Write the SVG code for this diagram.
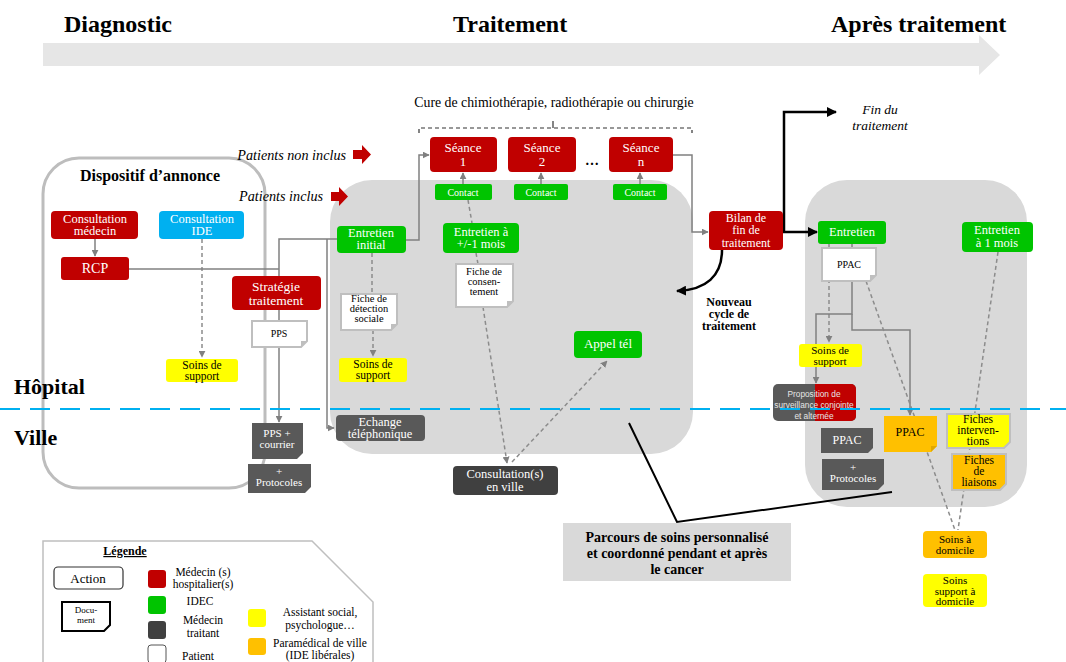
<svg xmlns="http://www.w3.org/2000/svg" width="1066" height="662" viewBox="0 0 1066 662">
<defs>
<marker id="ag" viewBox="0 0 10 10" refX="9" refY="5" markerWidth="7" markerHeight="7" orient="auto" markerUnits="userSpaceOnUse"><path d="M0,0 L10,5 L0,10 z" fill="#808080"/></marker>
<marker id="ab" viewBox="0 0 10 10" refX="9" refY="5" markerWidth="10" markerHeight="10" orient="auto" markerUnits="userSpaceOnUse"><path d="M0,0 L10,5 L0,10 z" fill="#000"/></marker>
<style>
text{font-family:"Liberation Serif","DejaVu Serif",serif;text-anchor:middle}
.w{fill:#fff}
.k{fill:#000}
.h{font-weight:bold;font-size:24px;text-anchor:start}
.red{fill:#c00000}
.grn{fill:#00c400}
.blu{fill:#00b0f0}
.yel{fill:#ffff00}
.org{fill:#ffc000}
.dk{fill:#595959}
.dk2{fill:#404040}
.doc{fill:#fff;stroke:#bfbfbf;stroke-width:2}
.fold{fill:#bfbfbf}
.ln{fill:none;stroke:#808080;stroke-width:1.5}
.dl{fill:none;stroke:#8c8c8c;stroke-width:1.5;stroke-dasharray:4,3}
.bl{fill:none;stroke:#000;stroke-width:2.5}
.region{fill:#d9d9d9}
.sans{font-family:"Liberation Sans",sans-serif}
</style>
</defs>
<rect width="1066" height="662" fill="#fff"/>

<!-- header -->
<g id="timeline">
<polygon points="43,43 979,43 979,35 1000,55 979,75 979,66 43,66" fill="#e6e6e6"/>
<text class="h k" x="64" y="32">Diagnostic</text>
<text class="h k" x="453" y="32">Traitement</text>
<text class="h k" x="831" y="32">Après traitement</text>
</g>

<!-- regions -->
<g id="dispositif">
<rect x="43" y="158" width="222" height="330" rx="36" fill="none" stroke="#bdbdbd" stroke-width="3"/>
<text x="150" y="181" style="font-weight:bold;font-size:16px" class="k">Dispositif d’annonce</text>
</g>
<rect id="region-traitement" class="region" x="330" y="180" width="363" height="274" rx="42"/>
<rect id="region-apres" class="region" x="805" y="180" width="222" height="327" rx="42"/>

<g id="zones">
<text x="14" y="394" style="font-weight:bold;font-size:22px;text-anchor:start" class="k">Hôpital</text>
<text x="14" y="445" style="font-weight:bold;font-size:22px;text-anchor:start" class="k">Ville</text>
</g>

<!-- connectors -->
<g id="connectors">
<line class="ln" x1="95" y1="239" x2="95" y2="256" marker-end="url(#ag)"/>
<line class="dl" x1="202" y1="239" x2="202" y2="357" marker-end="url(#ag)"/>
<polyline class="ln" points="129,269 279,269"/>
<polyline class="ln" points="279,276 279,239 337,239"/>
<polyline class="ln" points="327,239 327,428 334,428" marker-end="url(#ag)"/>
<line class="ln" x1="279" y1="310" x2="279" y2="321"/>
<line class="ln" x1="279" y1="347" x2="279" y2="422" marker-end="url(#ag)"/>
<polyline class="ln" points="406,240 419,240 419,155 429,155" marker-end="url(#ag)"/>
<line class="ln" x1="463" y1="184" x2="463" y2="173" marker-end="url(#ag)"/>
<line class="ln" x1="541" y1="184" x2="541" y2="173" marker-end="url(#ag)"/>
<line class="ln" x1="640" y1="184" x2="640" y2="173" marker-end="url(#ag)"/>
<polyline class="ln" points="673,155 692,155 692,232 708,232" marker-end="url(#ag)"/>
<line class="bl" x1="783" y1="232" x2="817" y2="232" marker-end="url(#ab)"/>
<polyline class="bl" points="784,232 784,112 836,112" marker-end="url(#ab)"/>
<path class="bl" d="M722,250 C722,276 706,290 677,291" marker-end="url(#ab)"/>
<line class="dl" x1="372" y1="253" x2="372" y2="294"/>
<line class="dl" x1="373" y1="330" x2="373" y2="356" marker-end="url(#ag)"/>
<line class="dl" x1="468" y1="200" x2="472" y2="223"/>
<line class="dl" x1="476" y1="253" x2="478" y2="264"/>
<line class="dl" x1="483" y1="307" x2="507" y2="463" marker-end="url(#ag)"/>
<line class="dl" x1="512" y1="462" x2="607" y2="361" marker-end="url(#ag)"/>
<line class="dl" x1="829" y1="244" x2="829" y2="342" marker-end="url(#ag)"/>
<line class="ln" x1="852" y1="244" x2="852" y2="248"/>
<polyline class="ln" points="852,281 852,314 816,314 816,383" marker-end="url(#ag)"/>
<polyline class="ln" points="852,314 852,330 910,330 910,415" marker-end="url(#ag)"/>
<line class="dl" x1="866" y1="281" x2="955" y2="530"/>
<line class="dl" x1="998" y1="252" x2="958" y2="530"/>
<polyline fill="none" stroke="#000" stroke-width="2" points="629,423 677,522 892,492"/>
<g id="bracket" fill="none" stroke="#333" stroke-width="1.2" stroke-dasharray="4,3">
<polyline points="419,133 419,128 692,128 692,133"/>
<line x1="553" y1="128" x2="553" y2="121" stroke-dasharray="none"/>
</g>
</g>

<!-- labels / arrows -->
<g id="patients-non-inclus">
<text x="346" y="160" style="font-style:italic;font-size:14.2px;text-anchor:end" class="k">Patients non inclus</text>
<polygon points="353,150 362,150 362,145 371,154.5 362,164 362,159 353,159" fill="#c00000"/>
</g>
<g id="patients-inclus">
<text x="323" y="201" style="font-style:italic;font-size:14.2px;text-anchor:end" class="k">Patients inclus</text>
<polygon points="331,192 339,192 339,187 348,196.5 339,206 339,201 331,201" fill="#c00000"/>
</g>
<text id="cure" x="554" y="107" style="font-size:13.8px" class="k">Cure de chimiothérapie, radiothérapie ou chirurgie</text>
<g id="fin-traitement">
<text x="880" y="114" style="font-style:italic;font-size:13.5px" class="k">Fin du</text>
<text x="880" y="130" style="font-style:italic;font-size:13.5px" class="k">traitement</text>
</g>
<g id="nouveau-cycle" style="font-weight:bold;font-size:12px">
<text x="729" y="306" class="k">Nouveau</text>
<text x="729" y="318" class="k">cycle de</text>
<text x="729" y="330" class="k">traitement</text>
</g>

<!-- diagnostic nodes -->
<g id="consultation-medecin"><rect class="red" x="51" y="211" width="87" height="28" rx="4"/>
<text class="w" x="95" y="223" font-size="12.5">Consultation</text><text class="w" x="95" y="235" font-size="12.5">médecin</text></g>
<g id="consultation-ide"><rect class="blu" x="159" y="211" width="85" height="28" rx="4"/>
<text class="w" x="202" y="223" font-size="12.5">Consultation</text><text class="w" x="202" y="235" font-size="12.5">IDE</text></g>
<g id="rcp"><rect class="red" x="61" y="257" width="68" height="23" rx="3"/>
<text class="w" x="95" y="273" font-size="14">RCP</text></g>
<g id="soins-support-1"><rect class="yel" x="166" y="359" width="72" height="23" rx="3"/>
<text class="k" x="202" y="369" font-size="11.5">Soins de</text><text class="k" x="202" y="380" font-size="11.5">support</text></g>
<g id="strategie"><rect class="red" x="232" y="276" width="89" height="34" rx="4"/>
<text class="w" x="276" y="291" font-size="13.5">Stratégie</text><text class="w" x="276" y="305" font-size="13.5">traitement</text></g>
<g id="pps"><path class="doc" d="M252,321 h55 v20 l-6,6 h-49 z"/><path class="fold" d="M307,341 l-6,6 v-6 z"/>
<text class="k" x="279" y="337" font-size="10">PPS</text></g>
<g id="pps-courrier"><path class="dk" d="M252,423 h51 v30 l-6,6 h-45 z"/>
<text class="w" x="277" y="437" font-size="11">PPS +</text><text class="w" x="277" y="448" font-size="11">courrier</text></g>
<g id="protocoles-1"><path class="dk" d="M248,464 h63 v23 l-6,6 h-57 z"/>
<text class="w" x="279" y="475" font-size="11">+</text><text class="w" x="279" y="486" font-size="11">Protocoles</text></g>

<!-- treatment nodes -->
<g id="seance-1"><rect class="red" x="430" y="137" width="67" height="35" rx="4"/>
<text class="w" x="463" y="152" font-size="13">Séance</text><text class="w" x="463" y="166" font-size="13">1</text></g>
<g id="seance-2"><rect class="red" x="508" y="137" width="68" height="35" rx="4"/>
<text class="w" x="542" y="152" font-size="13">Séance</text><text class="w" x="542" y="166" font-size="13">2</text></g>
<text id="ellipsis" x="592" y="165" font-size="14" font-weight="bold" class="k">…</text>
<g id="seance-n"><rect class="red" x="609" y="137" width="64" height="35" rx="4"/>
<text class="w" x="641" y="152" font-size="13">Séance</text><text class="w" x="641" y="166" font-size="13">n</text></g>
<g id="contact-1"><rect class="grn" x="435" y="184" width="57" height="16" rx="2"/><text class="w" x="463" y="196" font-size="10">Contact</text></g>
<g id="contact-2"><rect class="grn" x="514" y="184" width="54" height="16" rx="2"/><text class="w" x="541" y="196" font-size="10">Contact</text></g>
<g id="contact-n"><rect class="grn" x="613" y="184" width="54" height="16" rx="2"/><text class="w" x="640" y="196" font-size="10">Contact</text></g>
<g id="entretien-initial"><rect class="grn" x="337" y="226" width="69" height="27" rx="4"/>
<text class="w" x="371" y="237" font-size="12.5">Entretien</text><text class="w" x="371" y="249" font-size="12.5">initial</text></g>
<g id="entretien-1mois"><rect class="grn" x="443" y="223" width="76" height="30" rx="4"/>
<text class="w" x="481" y="236" font-size="12.5">Entretien à</text><text class="w" x="481" y="248" font-size="12.5">+/-1 mois</text></g>
<g id="fiche-consentement"><path class="doc" d="M456,264 h57 v37 l-6,6 h-51 z"/><path class="fold" d="M513,301 l-6,6 v-6 z"/>
<text class="k" x="484" y="275" font-size="10.5">Fiche de</text><text class="k" x="484" y="285" font-size="10.5">consen-</text><text class="k" x="484" y="295" font-size="10.5">tement</text></g>
<g id="fiche-detection"><path class="doc" d="M341,294 h56 v30 l-6,6 h-50 z"/><path class="fold" d="M397,324 l-6,6 v-6 z"/>
<text class="k" x="369" y="302" font-size="10.5">Fiche de</text><text class="k" x="369" y="312" font-size="10.5">détection</text><text class="k" x="369" y="322" font-size="10.5">sociale</text></g>
<g id="soins-support-2"><rect class="yel" x="339" y="358" width="68" height="24" rx="3"/>
<text class="k" x="373" y="368" font-size="11.5">Soins de</text><text class="k" x="373" y="379" font-size="11.5">support</text></g>
<g id="appel-tel"><rect class="grn" x="574" y="331" width="68" height="27" rx="4"/>
<text class="w" x="608" y="348" font-size="13">Appel tél</text></g>
<g id="echange"><rect class="dk" x="336" y="415" width="89" height="26" rx="4"/>
<text class="w" x="380" y="426" font-size="12.5">Echange</text><text class="w" x="380" y="438" font-size="12.5">téléphonique</text></g>
<g id="consultation-ville"><rect class="dk2" x="453" y="466" width="105" height="29" rx="4"/>
<text class="w" x="505" y="478" font-size="12.5">Consultation(s)</text><text class="w" x="505" y="491" font-size="12.5">en ville</text></g>
<g id="bilan"><rect class="red" x="709" y="211" width="74" height="39" rx="4"/>
<text class="w" x="746" y="222" font-size="12">Bilan de</text><text class="w" x="746" y="234" font-size="12">fin de</text><text class="w" x="746" y="247" font-size="12">traitement</text></g>

<g id="parcours"><rect fill="#d9d9d9" x="563" y="523" width="228" height="58"/>
<text class="k" x="677" y="542" font-size="14" font-weight="bold">Parcours de soins personnalisé</text>
<text class="k" x="677" y="558" font-size="14" font-weight="bold">et coordonné pendant et après</text>
<text class="k" x="677" y="574" font-size="14" font-weight="bold">le cancer</text></g>

<!-- after treatment nodes -->
<g id="entretien-apres"><rect class="grn" x="818" y="221" width="68" height="23" rx="3"/>
<text class="w" x="852" y="236" font-size="12.5">Entretien</text></g>
<g id="entretien-a-1-mois"><rect class="grn" x="962" y="222" width="71" height="30" rx="4"/>
<text class="w" x="997" y="234" font-size="12.5">Entretien</text><text class="w" x="997" y="247" font-size="12.5">à 1 mois</text></g>
<g id="ppac-doc"><path class="doc" d="M822,248 h54 v27 l-6,6 h-48 z"/><path class="fold" d="M876,275 l-6,6 v-6 z"/>
<text class="k" x="849" y="268" font-size="10">PPAC</text></g>
<g id="soins-support-3"><rect class="yel" x="799" y="344" width="63" height="23" rx="3"/>
<text class="k" x="830" y="354" font-size="11">Soins de</text><text class="k" x="830" y="365" font-size="11">support</text></g>
<g id="proposition"><rect class="dk" x="773" y="384" width="83" height="37" rx="5"/>
<path class="red" d="M815,384 h36 a5,5 0 0 1 5,5 v27 a5,5 0 0 1 -5,5 h-36 z"/>
<text class="sans" x="814" y="397" font-size="8.3" fill="#e6e6e6">Proposition de</text>
<text class="sans" x="814" y="408" font-size="8.3" fill="#e6e6e6">surveillance conjointe</text>
<text class="sans" x="814" y="419" font-size="8.3" fill="#e6e6e6">et alternée</text></g>
<g id="ppac-orange"><path class="org" d="M884,416 h53 v30 l-6,6 h-47 z"/><path d="M937,446 l-6,6 v-6 z" fill="#e0a800"/>
<text class="k" x="910" y="436" font-size="12">PPAC</text></g>
<g id="fiches-interventions"><path d="M947,414 h63 v28 l-6,6 h-57 z" fill="#ffff00" stroke="#bfbfbf" stroke-width="2"/>
<text class="k" x="978" y="423" font-size="11.5">Fiches</text><text class="k" x="978" y="434" font-size="11.5">interven-</text><text class="k" x="978" y="445" font-size="11.5">tions</text></g>
<g id="fiches-liaisons"><path d="M952,454 h54 v30 l-6,6 h-48 z" fill="#ffc000" stroke="#bfbfbf" stroke-width="2"/>
<text class="k" x="979" y="464" font-size="11.5">Fiches</text><text class="k" x="979" y="475" font-size="11.5">de</text><text class="k" x="979" y="486" font-size="11.5">liaisons</text></g>
<g id="ppac-dark"><path class="dk" d="M821,428 h52 v20 l-5,5 h-47 z"/>
<text class="w" x="847" y="444" font-size="12">PPAC</text></g>
<g id="protocoles-2"><path class="dk" d="M822,459 h62 v25 l-6,6 h-56 z"/>
<text class="w" x="853" y="471" font-size="11">+</text><text class="w" x="853" y="482" font-size="11">Protocoles</text></g>
<g id="soins-domicile"><rect class="org" x="923" y="531" width="64" height="27" rx="4"/>
<text class="k" x="955" y="543" font-size="11">Soins à</text><text class="k" x="955" y="554" font-size="11">domicile</text></g>
<g id="soins-support-domicile"><rect class="yel" x="923" y="574" width="64" height="33" rx="4"/>
<text class="k" x="955" y="584" font-size="11">Soins</text><text class="k" x="955" y="595" font-size="11">support à</text><text class="k" x="955" y="605" font-size="11">domicile</text></g>

<!-- hospital / city divider -->
<line id="divider" x1="0" y1="409" x2="1066" y2="409" stroke="#00b0f0" stroke-width="2" stroke-dasharray="20,10"/>

<!-- legend -->
<g id="legende">
<path d="M43,665 V541 H312 L373,602 V665" fill="#fff" stroke="#bfbfbf" stroke-width="1.5"/>
<text x="125" y="555" font-size="12" font-weight="bold" text-decoration="underline" class="k">Légende</text>
<rect x="54" y="567" width="69" height="22" rx="4" fill="#fff" stroke="#333" stroke-width="1.2"/>
<text x="88" y="583" font-size="13" class="k">Action</text>
<path d="M62,602 h48 v23 l-6,6 h-42 z" fill="#fff" stroke="#000" stroke-width="2"/>
<text x="86" y="613" font-size="9" class="k">Docu-</text><text x="86" y="623" font-size="9" class="k">ment</text>
<rect class="red" x="148" y="570" width="18" height="18" rx="3"/>
<rect class="grn" x="148" y="596" width="18" height="18" rx="3"/>
<rect class="dk2" x="148" y="621" width="18" height="18" rx="3"/>
<rect x="148" y="645" width="18" height="18" rx="3" fill="#fff" stroke="#555"/>
<rect class="yel" x="248" y="609" width="18" height="18" rx="3"/>
<rect class="org" x="248" y="638" width="18" height="17" rx="3"/>
<text x="203" y="576" font-size="11.5" class="k">Médecin (s)</text>
<text x="203" y="588" font-size="11.5" class="k">hospitalier(s)</text>
<text x="200" y="605" font-size="11.5" class="k">IDEC</text>
<text x="203" y="624" font-size="11.5" class="k">Médecin</text>
<text x="203" y="637" font-size="11.5" class="k">traitant</text>
<text x="198" y="660" font-size="11.5" class="k">Patient</text>
<text x="320" y="616" font-size="11.5" class="k">Assistant social,</text>
<text x="320" y="629" font-size="11.5" class="k">psychologue…</text>
<text x="320" y="647" font-size="11.5" class="k">Paramédical de ville</text>
<text x="320" y="659" font-size="11.5" class="k">(IDE libérales)</text>
</g>
</svg>
